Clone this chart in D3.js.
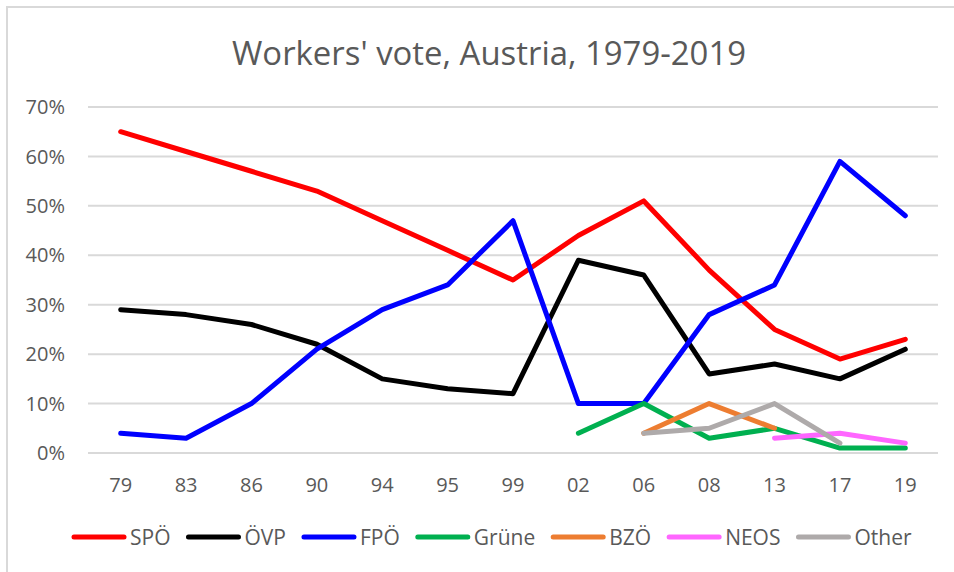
<!DOCTYPE html>
<html>
<head>
<meta charset="utf-8">
<script src="https://cdn.jsdelivr.net/npm/d3@7/dist/d3.min.js"></script>
<style>
  body { margin: 0; background: #fff; }
  text { font-family: "Open Sans", "Noto Sans", sans-serif; fill: #595959; }
</style>
</head>
<body>
<div id="wrapper"></div>
<script>
// data
const years = ["79", "83", "86", "90", "94", "95", "99", "02", "06", "08", "13", "17", "19"];
const spo = [65, 61, 57, 53, 47, 41, 35, 44, 51, 37, 25, 19, 23];
const ovp = [29, 28, 26, 22, 15, 13, 12, 39, 36, 16, 18, 15, 21];
const fpo = [4, 3, 10, 21, 29, 34, 47, 10, 10, 28, 34, 59, 48];
const grune = [null, null, null, null, null, null, null, 4, 10, 3, 5, 1, 1];
const bzo = [null, null, null, null, null, null, null, null, 4, 10, 5, null, null];
const neos = [null, null, null, null, null, null, null, null, null, null, 3, 4, 2];
const other = [null, null, null, null, null, null, null, null, 4, 5, 10, 2, null];
const yTicks = [0, 10, 20, 30, 40, 50, 60, 70];

const seriesNames = ["SPÖ", "ÖVP", "FPÖ", "Grüne", "BZÖ", "NEOS", "Other"];
const seriesValues = [spo, ovp, fpo, grune, bzo, neos, other];
const seriesColors = ["#ff0000", "#000000", "#0000ff", "#00b050", "#ed7d31", "#ff66ff", "#aeaaaa"];

const series = seriesNames.map((name, i) => ({
  name: name,
  color: seriesColors[i],
  values: seriesValues[i].map((v, j) => ({ year: years[j], value: v })),
}));

const width = 954;
const height = 572;
const dimensions = {
  width: width,
  height: height,
  margin: { top: 107, right: 16, bottom: 119, left: 88 },
};
dimensions.boundedWidth = dimensions.width - dimensions.margin.left - dimensions.margin.right;
dimensions.boundedHeight = dimensions.height - dimensions.margin.top - dimensions.margin.bottom;

const svg = d3
  .select("#wrapper")
  .append("svg")
  .attr("width", dimensions.width)
  .attr("height", dimensions.height);

// chart border (right and bottom edges run off the picture)
svg
  .append("rect")
  .attr("x", 7)
  .attr("y", 7)
  .attr("width", width + 10)
  .attr("height", height + 10)
  .attr("fill", "#fff")
  .attr("stroke", "#d9d9d9")
  .attr("stroke-width", 2);

// title
svg
  .append("text")
  .attr("x", 489)
  .attr("y", 65)
  .attr("text-anchor", "middle")
  .style("font-size", "33px")
  .attr("textLength", 514)
  .attr("lengthAdjust", "spacingAndGlyphs")
  .text("Workers' vote, Austria, 1979-2019");

const bounds = svg
  .append("g")
  .attr("transform", `translate(${dimensions.margin.left},${dimensions.margin.top})`);

// scales
const xScale = d3.scalePoint().domain(years).range([0, dimensions.boundedWidth]).padding(0.5);
const yScale = d3.scaleLinear().domain([0, 70]).range([dimensions.boundedHeight, 0]);

// gridlines
bounds
  .append("g")
  .selectAll("line")
  .data(yTicks)
  .join("line")
  .attr("x1", 0)
  .attr("x2", dimensions.boundedWidth)
  .attr("y1", (d) => yScale(d))
  .attr("y2", (d) => yScale(d))
  .attr("stroke", "#d9d9d9")
  .attr("stroke-width", 2);

// y labels
bounds
  .append("g")
  .selectAll("text")
  .data(yTicks)
  .join("text")
  .attr("x", -23)
  .attr("y", (d) => yScale(d))
  .attr("dy", "0.36em")
  .attr("text-anchor", "end")
  .style("font-size", "20px")
  .text((d) => d + "%");

// x labels
bounds
  .append("g")
  .selectAll("text")
  .data(years)
  .join("text")
  .attr("x", (d) => xScale(d))
  .attr("y", dimensions.boundedHeight + 32)
  .attr("dy", "0.36em")
  .attr("text-anchor", "middle")
  .style("font-size", "20px")
  .text((d) => d);

// lines
const line = d3
  .line()
  .defined((d) => d.value != null)
  .x((d) => xScale(d.year))
  .y((d) => yScale(d.value));

bounds
  .append("g")
  .selectAll("path")
  .data(series)
  .join("path")
  .attr("d", (d) => line(d.values))
  .attr("fill", "none")
  .attr("stroke", (d) => d.color)
  .attr("stroke-width", 5)
  .attr("stroke-linejoin", "round")
  .attr("stroke-linecap", "round");

// legend
const legend = svg.append("g").attr("transform", "translate(72,537)");
let lx = 0;
series.forEach((s) => {
  const item = legend.append("g").attr("transform", `translate(${lx},0)`);
  item
    .append("line")
    .attr("x1", 2)
    .attr("x2", 52)
    .attr("stroke", s.color)
    .attr("stroke-width", 5)
    .attr("stroke-linecap", "round");
  const label = item
    .append("text")
    .attr("x", 58)
    .attr("dy", "0.36em")
    .style("font-size", "21px")
    .text(s.name);
  lx += 58 + label.node().getComputedTextLength() + 16;
});
</script>
</body>
</html>
